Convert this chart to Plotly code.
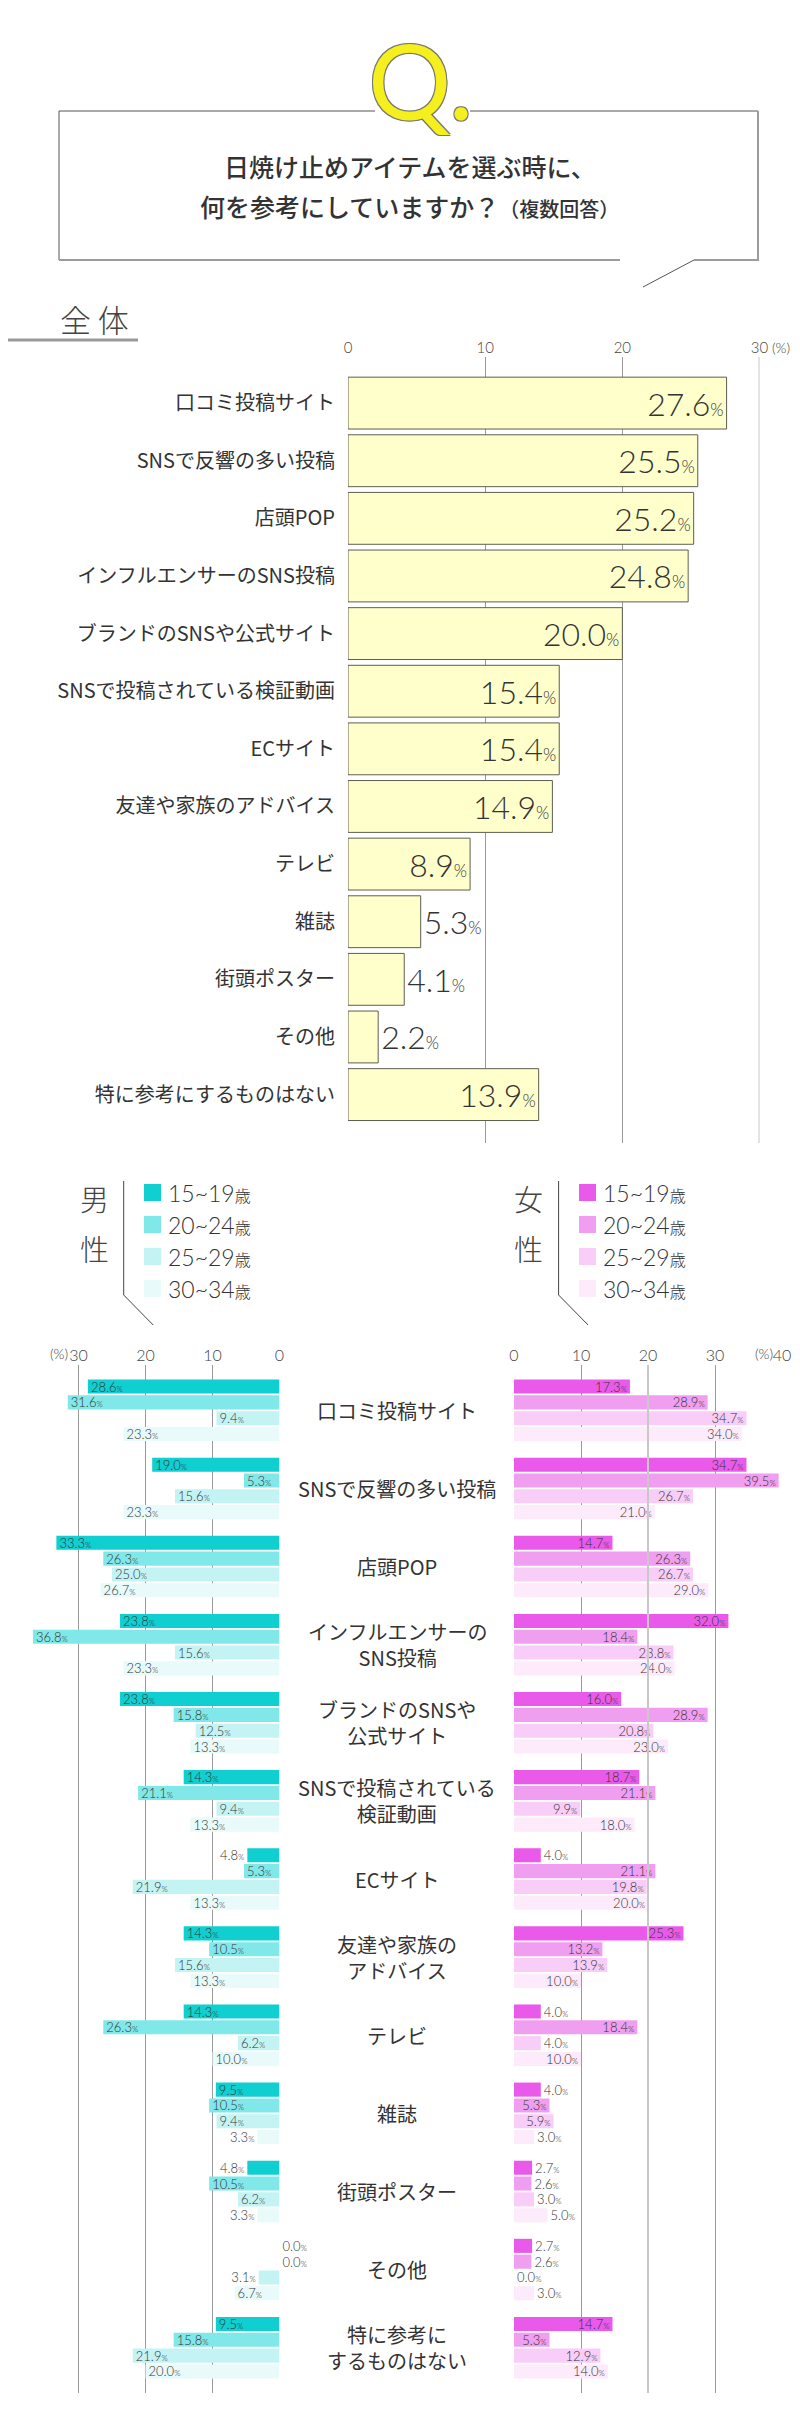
import plotly.graph_objects as go

W, H = 800, 2420

categories = [
    "口コミ投稿サイト", "SNSで反響の多い投稿", "店頭POP", "インフルエンサーのSNS投稿",
    "ブランドのSNSや公式サイト", "SNSで投稿されている検証動画", "ECサイト",
    "友達や家族のアドバイス", "テレビ", "雑誌", "街頭ポスター", "その他",
    "特に参考にするものはない",
]
center_labels = [
    "口コミ投稿サイト", "SNSで反響の多い投稿", "店頭POP", "インフルエンサーの<br>SNS投稿",
    "ブランドのSNSや<br>公式サイト", "SNSで投稿されている<br>検証動画", "ECサイト",
    "友達や家族の<br>アドバイス", "テレビ", "雑誌", "街頭ポスター", "その他",
    "特に参考に<br>するものはない",
]
total = [27.6, 25.5, 25.2, 24.8, 20.0, 15.4, 15.4, 14.9, 8.9, 5.3, 4.1, 2.2, 13.9]

ages = ["15~19", "20~24", "25~29", "30~34"]
male_15_19 = [28.6, 19.0, 33.3, 23.8, 23.8, 14.3, 4.8, 14.3, 14.3, 9.5, 4.8, 0.0, 9.5]
male_20_24 = [31.6, 5.3, 26.3, 36.8, 15.8, 21.1, 5.3, 10.5, 26.3, 10.5, 10.5, 0.0, 15.8]
male_25_29 = [9.4, 15.6, 25.0, 15.6, 12.5, 9.4, 21.9, 15.6, 6.2, 9.4, 6.2, 3.1, 21.9]
male_30_34 = [23.3, 23.3, 26.7, 23.3, 13.3, 13.3, 13.3, 13.3, 10.0, 3.3, 3.3, 6.7, 20.0]
female_15_19 = [17.3, 34.7, 14.7, 32.0, 16.0, 18.7, 4.0, 25.3, 4.0, 4.0, 2.7, 2.7, 14.7]
female_20_24 = [28.9, 39.5, 26.3, 18.4, 28.9, 21.1, 21.1, 13.2, 18.4, 5.3, 2.6, 2.6, 5.3]
female_25_29 = [34.7, 26.7, 26.7, 23.8, 20.8, 9.9, 19.8, 13.9, 4.0, 5.9, 3.0, 0.0, 12.9]
female_30_34 = [34.0, 21.0, 29.0, 24.0, 23.0, 18.0, 20.0, 10.0, 10.0, 3.0, 5.0, 3.0, 14.0]

top_ticks = [0, 10, 20, 30]
male_ticks = [0, 10, 20, 30]
female_ticks = [0, 10, 20, 30, 40]

male_series = [male_15_19, male_20_24, male_25_29, male_30_34]
female_series = [female_15_19, female_20_24, female_25_29, female_30_34]
male_colors = ["#0fcfd1", "#80e8e8", "#c4f3f3", "#e8fafa"]
female_colors = ["#ea5aea", "#f09ef0", "#f8cdf7", "#fdebfc"]

CJK = "Noto Sans CJK JP"
NUM = "Lato, Noto Sans"
TXT = "#333333"


def px(x):
    return x / W


def py(y):
    return 1 - y / H


def pct(v, small):
    return f"{v:.1f}<span style='font-size:{small}px'>%</span>"


fig = go.Figure()

# 全体
fig.add_trace(go.Bar(
    x=total, y=categories, orientation="h", width=0.9,
    xaxis="x", yaxis="y",
    marker=dict(color="#ffffcc", line=dict(color="#5e5e50", width=1)),
    text=[pct(v, 17) for v in total],
    textposition=["inside" if v >= 8 else "outside" for v in total],
    insidetextanchor="end", textangle=0, constraintext="none",
    textfont=dict(family=NUM, size=32, color=TXT, weight=300),
    cliponaxis=False, showlegend=False, hoverinfo="skip",
))

# 男性 / 女性
for vals, col, age in zip(male_series, male_colors, ages):
    fig.add_trace(go.Bar(
        x=vals, y=categories, orientation="h", xaxis="x2", yaxis="y2",
        marker=dict(color=col), name="男性 " + age,
        text=[pct(v, 8) for v in vals],
        textposition=["inside" if v >= 5.1 else "outside" for v in vals],
        insidetextanchor="end", textangle=0, constraintext="none",
        textfont=dict(family=NUM, size=13, color=TXT, weight=300),
        cliponaxis=False, showlegend=False, hoverinfo="skip",
    ))
for vals, col, age in zip(female_series, female_colors, ages):
    fig.add_trace(go.Bar(
        x=vals, y=categories, orientation="h", xaxis="x3", yaxis="y3",
        marker=dict(color=col), name="女性 " + age,
        text=[pct(v, 8) for v in vals],
        textposition=["inside" if v >= 5.1 else "outside" for v in vals],
        insidetextanchor="end", textangle=0, constraintext="none",
        textfont=dict(family=NUM, size=13, color=TXT, weight=300),
        cliponaxis=False, showlegend=False, hoverinfo="skip",
    ))

grid = "#9a9a9a"
tickfont = dict(family=NUM, size=16, color="#444", weight=300)
unit = 6.7  # px per percent in the lower charts

fig.update_layout(
    width=W, height=H, template="none",
    margin=dict(l=0, r=0, t=0, b=0),
    paper_bgcolor="white", plot_bgcolor="rgba(0,0,0,0)",
    barmode="group", bargap=0.19, bargroupgap=0.11,
    xaxis=dict(domain=[px(340), px(751.5)], range=[0, 30], anchor="y", side="top",
               tickvals=top_ticks, ticktext=[str(t) for t in top_ticks],
               showgrid=True, gridcolor=grid, gridwidth=1, zeroline=False,
               showline=False, ticks="",
               tickfont=dict(family=NUM, size=15, color="#444", weight=300)),
    yaxis=dict(domain=[py(1135), py(349)], type="category", range=[12.84, -0.8],
               anchor="x", showgrid=False, zeroline=False, ticks="", showline=False,
               ticklabelstandoff=12, tickfont=dict(family=CJK, size=20, color=TXT)),
    xaxis2=dict(domain=[px(271.5 - 37 * unit), px(271.5)], range=[37, 0], anchor="y2",
                side="top", tickvals=male_ticks, ticktext=[str(t) for t in male_ticks],
                showgrid=True, gridcolor=grid, gridwidth=1, zeroline=False,
                showline=False, ticks="", tickfont=tickfont),
    yaxis2=dict(domain=[py(2385), py(1357)], type="category", range=[12.58, -0.58],
                anchor="x2", showgrid=False, zeroline=False, ticks="",
                showticklabels=False, showline=False),
    xaxis3=dict(domain=[px(506), px(506 + 40 * unit)], range=[0, 40], anchor="y3", side="top",
                tickvals=female_ticks, ticktext=[str(t) for t in female_ticks],
                showgrid=True, gridcolor=grid, gridwidth=1, zeroline=False,
                showline=False, ticks="", tickfont=tickfont),
    yaxis3=dict(domain=[py(2385), py(1357)], type="category", range=[12.58, -0.58],
                anchor="x3", showgrid=False, zeroline=False, ticks="",
                showticklabels=False, showline=False),
)

shapes = []
ann = []


def line(x0, y0, x1, y1, color="#555", width=1):
    shapes.append(dict(type="line", xref="paper", yref="paper",
                       x0=px(x0), y0=py(y0), x1=px(x1), y1=py(y1),
                       line=dict(color=color, width=width)))


def text(x, y, s, font, xanchor="center"):
    ann.append(dict(x=px(x), y=py(y), xref="paper", yref="paper", text=s,
                    showarrow=False, xanchor=xanchor, yanchor="middle", font=font))


# question box
line(51, 103, 367, 103)
line(462, 103, 750, 103)
line(51, 103, 51, 252)
line(750, 103, 750, 253, "#9c9c9c", 2)
line(51, 252, 612, 252, "#9c9c9c", 2)
line(686, 252, 750, 252, "#9c9c9c", 2)
line(686, 252, 635, 279)

text(412, 72, "Q.", dict(family="Lato, Noto Sans", size=104, color="#f5ef1e",
                         shadow="-1px -1px 0 #777, 1px -1px 0 #777, -1px 1px 0 #777, 1px 1px 0 #777"))
text(402, 158, "日焼け止めアイテムを選ぶ時に、", dict(family=CJK, size=25, color=TXT, weight=500))
text(402, 198, "何を参考にしていますか？<span style='font-size:20px'>（複数回答）</span>",
     dict(family=CJK, size=25, color=TXT, weight=500))

# 全体 heading
text(50, 310, "全 体", dict(family=CJK, size=31, color="#444", weight=300), "left")
line(0, 332, 130, 332, "#999", 3)

# thicker light gridlines
shapes.append(dict(type="line", xref="x", yref="paper", x0=top_ticks[-1], x1=top_ticks[-1],
                   y0=py(1135), y1=py(349), line=dict(color="#c8c8c8", width=2)))
shapes.append(dict(type="line", xref="x3", yref="paper", x0=female_ticks[2], x1=female_ticks[2],
                   y0=py(2385), y1=py(1357), line=dict(color="#c8c8c8", width=2)))

# (%) unit labels
unitfont = dict(family=NUM, size=14, color="#444", weight=300)
text(762, 340, "(%)", unitfont, "left")
text(62, 1345, "(%)", unitfont, "right")
text(767, 1345, "(%)", unitfont, "right")

# legends
for gx, lx, sx, lbl, cols in [(86, 115.7, 136, "男", male_colors),
                              (520, 550.6, 571, "女", female_colors)]:
    gfont = dict(family=CJK, size=29, color="#444", weight=300)
    text(gx, 1190, lbl, gfont)
    text(gx, 1240, "性", gfont)
    line(lx, 1173, lx, 1287, "#444", 1)
    line(lx, 1287, lx + 29.5, 1317, "#444", 1)
    for i, (age, col) in enumerate(zip(ages, cols)):
        top = 1176 + i * 32
        shapes.append(dict(type="rect", xref="paper", yref="paper",
                           x0=px(sx), x1=px(sx + 17), y0=py(top + 17), y1=py(top),
                           fillcolor=col, line=dict(width=0)))
        text(sx + 22, top + 9,
             age + "<span style='font-family:Noto Sans CJK JP;font-size:16px'>歳</span>",
             dict(family=NUM, size=23, color=TXT, weight=300), "left")

# center category labels
for cat, lab in zip(categories, center_labels):
    ann.append(dict(x=px(389), xref="paper", y=cat, yref="y2", text=lab, showarrow=False,
                    xanchor="center", yanchor="middle",
                    font=dict(family=CJK, size=20, color=TXT)))

fig.update_layout(shapes=shapes, annotations=ann)
fig.write_html("out.html")
